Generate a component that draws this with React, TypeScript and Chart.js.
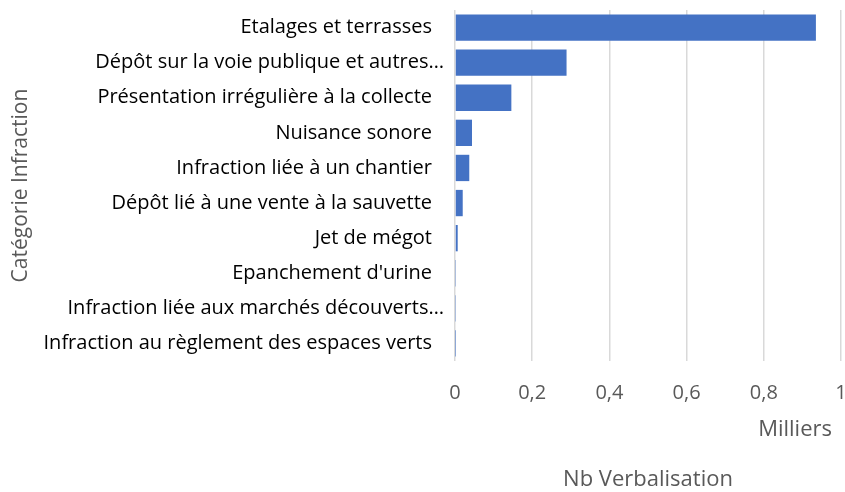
import React, { useEffect, useRef } from "react";
import { Chart, registerables } from "chart.js";

Chart.register(...registerables);

const categories = [
  "Etalages et terrasses",
  "Dépôt sur la voie publique et autres…",
  "Présentation irrégulière à la collecte",
  "Nuisance sonore",
  "Infraction liée à un chantier",
  "Dépôt lié à une vente à la sauvette",
  "Jet de mégot",
  "Epanchement d'urine",
  "Infraction liée aux marchés découverts…",
  "Infraction au règlement des espaces verts",
];

// Nb Verbalisation, in thousands (Milliers)
const values = [0.935, 0.289, 0.146, 0.044, 0.037, 0.02, 0.007, 0.001, 0.001, 0.0005];

const xTicks = [0, 0.2, 0.4, 0.6, 0.8, 1];

const FONT = "'Open Sans', sans-serif";
const isTruncated = (s: string) => s.endsWith("…");

const extrasPlugin = {
  id: "extras",
  afterDraw(chart: any) {
    const { ctx, chartArea } = chart;
    const yScale = chart.scales.y;
    ctx.save();
    // truncated category labels hang slightly further right, as in the source
    ctx.font = `20px ${FONT}`;
    ctx.fillStyle = "#000000";
    ctx.textAlign = "right";
    ctx.textBaseline = "middle";
    categories.forEach((c, i) => {
      if (isTruncated(c)) {
        ctx.fillText(c, chartArea.left - 11, yScale.getPixelForTick(i));
      }
    });
    ctx.font = `22px ${FONT}`;
    ctx.fillStyle = "#595959";
    ctx.fillText("Milliers", chartArea.right - 9, 430);
    ctx.restore();
  },
};

export default function App() {
  const ref = useRef<HTMLCanvasElement>(null);
  useEffect(() => {
    document.body.style.margin = "0";
    const chart = new Chart(ref.current!, {
      type: "bar",
      data: {
        labels: categories,
        datasets: [
          {
            data: values,
            backgroundColor: "#4472C4",
            borderWidth: 0,
            categoryPercentage: 0.75,
            barPercentage: 1,
          },
        ],
      },
      options: {
        indexAxis: "y",
        animation: false,
        responsive: false,
        layout: { padding: { top: 10, right: 4, left: 0, bottom: 0 } },
        plugins: { legend: { display: false }, tooltip: { enabled: false } },
        scales: {
          x: {
            min: 0,
            max: 1,
            afterBuildTicks(scale: any) {
              scale.ticks = xTicks.map((v) => ({ value: v }));
            },
            afterFit(scale: any) {
              scale.height = 131;
              scale.paddingLeft = 0;
              scale.paddingRight = 0;
            },
            grid: { color: "#D9D9D9", lineWidth: 1.5, drawTicks: false },
            border: { display: false },
            ticks: {
              padding: 20,
              color: "#595959",
              font: { family: FONT, size: 20 },
              callback: (v: any) => String(Math.round(Number(v) * 10) / 10).replace(".", ","),
            },
            title: {
              display: true,
              text: "Nb Verbalisation",
              color: "#595959",
              font: { family: FONT, size: 22, lineHeight: 1 },
              padding: { top: 0, bottom: 1 },
            },
          },
          y: {
            afterFit(scale: any) {
              scale.width = 455;
              scale.paddingTop = 0;
              scale.paddingBottom = 0;
            },
            grid: { display: false, drawTicks: false },
            border: { display: false },
            ticks: {
              padding: 23,
              color: (ctx: any) =>
                isTruncated(categories[ctx.index] || "") ? "rgba(0,0,0,0)" : "#000000",
              font: { family: FONT, size: 20 },
            },
            title: {
              display: true,
              text: "Catégorie Infraction",
              color: "#595959",
              font: { family: FONT, size: 21 },
              padding: { top: 8, bottom: 0 },
            },
          },
        },
      },
      plugins: [extrasPlugin],
    });
    return () => chart.destroy();
  }, []);
  return (
    <div style={{ position: "relative", width: 845, height: 492 }}>
      <canvas ref={ref} width={845} height={492} style={{ display: "block" }} />
    </div>
  );
}
